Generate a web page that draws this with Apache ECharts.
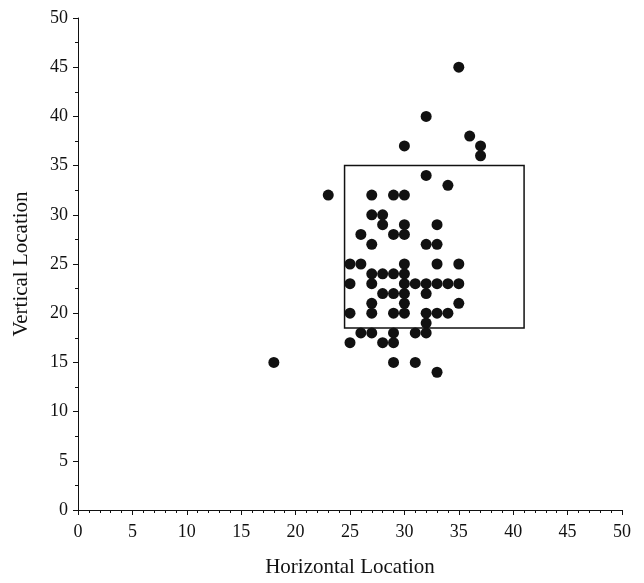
<!DOCTYPE html>
<html>
<head>
<meta charset="utf-8">
<script src="https://cdn.jsdelivr.net/npm/echarts@6/dist/echarts.min.js"></script>
<style>
html,body{margin:0;padding:0;background:#fff;}
#chart{width:644px;height:583px;}
</style>
</head>
<body>
<div id="chart"></div>
<script>
// Horizontal (x) values of the points
var xValues = [35,32,36,37,37,30,32,34,
  23,27,29,30,
  27,28,
  28,30,33,
  26,29,30,
  27,32,33,
  25,26,30,33,35,
  27,28,29,30,
  25,27,30,31,32,33,34,35,
  28,29,30,32,
  27,30,35,
  25,27,29,30,32,33,34,
  32,
  26,27,29,31,32,
  25,28,29,
  18,29,31,
  33];
// Vertical (y) values of the points
var yValues = [45,40,38,37,36,37,34,33,
  32,32,32,32,
  30,30,
  29,29,29,
  28,28,28,
  27,27,27,
  25,25,25,25,25,
  24,24,24,24,
  23,23,23,23,23,23,23,23,
  22,22,22,22,
  21,21,21,
  20,20,20,20,20,20,20,
  19,
  18,18,18,18,18,
  17,17,17,
  15,15,15,
  14];
// Rectangle region: [xMin, yMin], [xMax, yMax]
var boxCorners = [[24.5, 18.5], [41, 35]];
var xTicks = [0,5,10,15,20,25,30,35,40,45,50];
var yTicks = [0,5,10,15,20,25,30,35,40,45,50];

var points = xValues.map(function(x, i){ return [x, yValues[i]]; });
var font = 'Liberation Serif';

var chart = echarts.init(document.getElementById('chart'), null, {renderer:'canvas'});
chart.setOption({
  animation: false,
  backgroundColor: '#fff',
  grid: {left: 78, right: 22, top: 18, bottom: 67, containLabel: false},
  xAxis: {
    type: 'value',
    min: xTicks[0], max: xTicks[xTicks.length-1], interval: 5,
    name: 'Horizontal Location', nameLocation: 'middle', nameGap: 47,
    nameTextStyle: {fontFamily: font, fontSize: 21, color: '#111'},
    axisLine: {show: true, onZero: false, lineStyle: {color: '#111', width: 1}},
    axisTick: {show: true, inside: false, length: 5, lineStyle: {color: '#111'}},
    minorTick: {show: true, splitNumber: 5, length: 3, lineStyle: {color: '#111'}},
    axisLabel: {fontFamily: font, fontSize: 18, color: '#111', margin: 13},
    splitLine: {show: false}
  },
  yAxis: {
    type: 'value',
    min: yTicks[0], max: yTicks[yTicks.length-1], interval: 5,
    name: 'Vertical Location', nameLocation: 'middle', nameGap: 46,
    nameTextStyle: {fontFamily: font, fontSize: 21, color: '#111'},
    axisLine: {show: true, onZero: false, lineStyle: {color: '#111', width: 1}},
    axisTick: {show: true, inside: false, length: 5, lineStyle: {color: '#111'}},
    minorTick: {show: true, splitNumber: 2, length: 3, lineStyle: {color: '#111'}},
    axisLabel: {fontFamily: font, fontSize: 18, color: '#111', margin: 10},
    splitLine: {show: false}
  },
  series: [{
    type: 'scatter',
    data: points,
    symbol: 'circle',
    symbolSize: 11,
    itemStyle: {color: '#111', opacity: 1},
    markArea: {
      silent: true,
      itemStyle: {color: 'rgba(0,0,0,0)', borderColor: '#111', borderWidth: 1.5},
      data: [[{coord: boxCorners[0]}, {coord: boxCorners[1]}]]
    }
  }]
});
</script>
</body>
</html>
